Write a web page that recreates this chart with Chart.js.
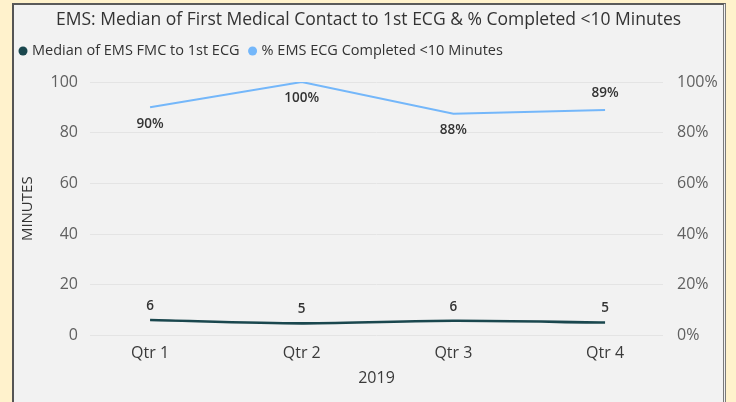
<!DOCTYPE html>
<html>
<head>
<meta charset="utf-8">
<script src="https://cdn.jsdelivr.net/npm/chart.js@4.4.1/dist/chart.umd.min.js"></script>
<style>
  html, body { margin: 0; padding: 0; background: #fff2cc; overflow: hidden; }
  #panel { position: absolute; left: 12px; top: 3px; width: 709px; height: 420px;
           background: #f2f2f2; border-left: 2px solid #555; border-top: 2px solid #5a5a5a;
           border-right: 3px double #7a7a7a; }
  #wrap { position: absolute; left: 0; top: 0; width: 736px; height: 402px; }
</style>
</head>
<body>
<div id="panel"></div>
<div id="wrap"><canvas id="c" width="736" height="402"></canvas></div>
<script>
// 데이터
const quarters = ["Qtr 1", "Qtr 2", "Qtr 3", "Qtr 4"];
const medianMin = [6.1, 4.8, 5.8, 5.1];
const pctUnder10 = [90, 100, 87.5, 89];
const medianLabels = ["6", "5", "6", "5"];
const pctLabels = ["90%", "100%", "88%", "89%"];
const yTicks = [0, 20, 40, 60, 80, 100];

const FONT = "'Open Sans', 'Noto Sans', sans-serif";
const DARK = "#1a474e", LIGHT = "#74b7fa";

// 값 라벨: 아래(+1) / 위(-1)
const pctPos = [1, 1, 1, -1];
const labelPlugin = {
  id: "vlabels",
  afterDatasetsDraw(chart) {
    const ctx = chart.ctx;
    ctx.save();
    ctx.font = `600 13.5px ${FONT}`;
    ctx.fillStyle = "#333";
    ctx.textAlign = "center";
    ctx.textBaseline = "middle";
    chart.getDatasetMeta(0).data.forEach((p, i) => ctx.fillText(medianLabels[i], p.x, p.y - 14));
    chart.getDatasetMeta(1).data.forEach((p, i) => ctx.fillText(pctLabels[i], p.x, p.y + pctPos[i] * 16.5));
    ctx.restore();
  },
};

// 범례 (점 + 글자)
const legendPlugin = {
  id: "miniLegend",
  afterDraw(chart) {
    const ctx = chart.ctx;
    ctx.save();
    ctx.font = `14.5px ${FONT}`;
    ctx.textBaseline = "middle";
    let x = 23;
    const y = 51;
    chart.data.datasets.forEach((ds) => {
      ctx.fillStyle = ds.borderColor;
      ctx.beginPath(); ctx.arc(x, y, 4.5, 0, Math.PI * 2); ctx.fill();
      ctx.fillStyle = "#333";
      ctx.fillText(ds.label, x + 9, y);
      x += 9 + ctx.measureText(ds.label).width + 13;
    });
    ctx.restore();
  },
};

new Chart(document.getElementById("c"), {
  type: "line",
  data: {
    datasets: [
      { label: "Median of EMS FMC to 1st ECG", data: medianMin.map((v, i) => ({ x: i, y: v })),
        borderColor: DARK, backgroundColor: DARK, borderWidth: 2.6, pointRadius: 0, tension: 0.3, yAxisID: "y" },
      { label: "% EMS ECG Completed <10 Minutes", data: pctUnder10.map((v, i) => ({ x: i, y: v })),
        borderColor: LIGHT, backgroundColor: LIGHT, borderWidth: 2, pointRadius: 0, tension: 0, yAxisID: "y2" },
    ],
  },
  options: {
    responsive: false, animation: false,
    layout: { padding: { left: 14, right: 13, top: 4, bottom: 0 } },
    plugins: {
      title: { display: true, text: "EMS: Median of First Medical Contact to 1st ECG & % Completed <10 Minutes",
               color: "#333", font: { family: FONT, size: 17.5, weight: "normal" }, padding: { top: 6, bottom: 51 } },
      legend: { display: false },
      tooltip: { enabled: false },
    },
    scales: {
      x: { type: "linear", min: -0.396, max: 3.382,
           afterBuildTicks: (s) => { s.ticks = quarters.map((_, i) => ({ value: i })); },
           afterFit: (s) => { s.height = 66.5; },
           ticks: { callback: (v) => quarters[v], color: "#3a3a3a", font: { family: FONT, size: 16 }, padding: 8, maxRotation: 0 },
           grid: { display: false, drawTicks: false }, border: { display: false },
           title: { display: true, text: "2019", color: "#3a3a3a", font: { family: FONT, size: 16 }, padding: { top: 0, bottom: 14 } } },
      y: { position: "left", min: 0, max: 100,
           afterBuildTicks: (s) => { s.ticks = yTicks.map((v) => ({ value: v })); },
           afterFit: (s) => { s.width = 76; },
           ticks: { color: "#606060", font: { family: FONT, size: 16 }, padding: 12 },
           grid: { color: "#e4e4e4", drawTicks: false }, border: { display: false },
           title: { display: true, text: "MINUTES", color: "#333", font: { family: FONT, size: 15 }, padding: { top: 5, bottom: 0 } } },
      y2: { position: "right", min: 0, max: 100,
            afterBuildTicks: (s) => { s.ticks = yTicks.map((v) => ({ value: v })); },
            afterFit: (s) => { s.width = 60; },
            ticks: { callback: (v) => v + "%", color: "#606060", font: { family: FONT, size: 16 }, padding: 14 },
            grid: { display: false, drawTicks: false }, border: { display: false } },
    },
  },
  plugins: [labelPlugin, legendPlugin],
});
</script>
</body>
</html>
